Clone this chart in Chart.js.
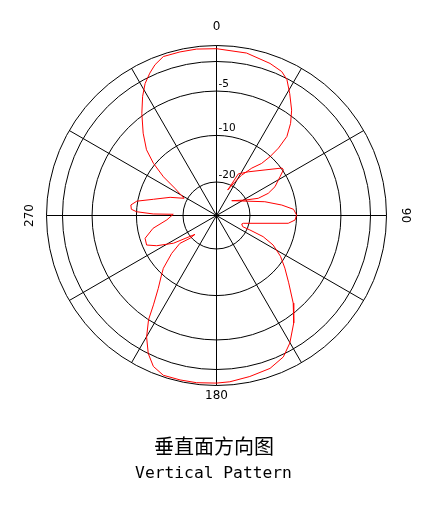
<!DOCTYPE html>
<html>
<head>
<meta charset="utf-8">
<script src="https://cdn.jsdelivr.net/npm/chart.js@4.4.1/dist/chart.umd.min.js"></script>
<style>
html,body{margin:0;padding:0;background:#fff;width:435px;height:505px;overflow:hidden}
#wrap{position:relative;width:435px;height:505px}
#c{position:absolute;left:0;top:0}
.t1{position:absolute;left:0;width:428px;text-align:center;top:436px;font-family:"Noto Sans CJK SC";font-size:20px;line-height:20px;color:#000}
.t2{position:absolute;left:0;width:427px;text-align:center;top:463px;font-family:"DejaVu Sans Mono";font-size:16.3px;line-height:19px;color:#000;white-space:pre}
</style>
</head>
<body>
<div id="wrap">
<canvas id="c" width="435" height="505"></canvas>
<div class="t1">垂直面方向图</div>
<div class="t2">Vertical Pattern</div>
</div>
<script>
// Path of the measured pattern, in drawing order (angle in degrees, clockwise from 0 at top)
const angles = [0,10.5,19.4,24.4,27.4,31,35.5,38.8,41.7,42.6,
  42.3,40.9,36.7,31.9,28.7,23.7,27.7,36,46.8,54.1,
  55.7,58.6,63.8,66.8,67.6,61.5,45.8,74.1,80.9,85.4,
  89.6,93.3,96.2,106.2,108.6,113.1,113.4,114.4,117.5,122.5,
  127.6,133,138.8,144.3,150.1,154.7,160.7,168.3,175.4,180,
  186.8,192.5,198.4,202.7,206.3,209.9,213.1,215.2,218.6,222.1,
  225.2,229.8,232.7,229.3,228.8,237.2,243.2,247.1,252.3,258.6,
  265,271.6,271.4,272.7,274.2,277,280.2,284.4,291.4,297.9,
  303.2,306.1,309.6,313.2,318.3,323.8,328.2,331.6,334.9,337.8,
  341.5,347.4,353.2,360];
// Relative level in dB at each path point
const gains = [-0.4,-0.6,-1.1,-1.5,-2.1,-3.2,-4.5,-5.7,-7.1,-8.7,
  -10.1,-12.4,-14.5,-17.0,-18.9,-23.4,-17.1,-15.6,-12.9,-9.9,
  -9.9,-11.2,-13.2,-15.1,-17.5,-20.7,-27.3,-16.4,-13.0,-10.6,
  -10.0,-10.3,-11.7,-23.3,-24.1,-23.0,-19.4,-16.2,-13.5,-10.9,
  -9.3,-7.9,-5.9,-4.2,-2.7,-1.7,-1.0,-0.7,-0.4,-0.3,
  -0.2,-0.2,-0.2,-0.8,-2.0,-3.4,-5.0,-6.7,-8.5,-9.7,
  -11.1,-14.6,-17.3,-19.7,-22.9,-16.2,-12.8,-10.9,-11.1,-13.3,
  -16.5,-17.9,-13.6,-10.0,-9.4,-9.3,-9.9,-13.2,-16.5,-19.3,
  -16.5,-13.1,-9.8,-8.2,-6.6,-4.8,-3.4,-2.4,-1.6,-0.9,
  -0.3,-0.3,-0.3,-0.4];
// Radial scale of the plot: grid ring levels (dB) and their fraction of the full radius
const ringDb = [0, -2, -5, -10, -20, -40];
const ringFrac = [1, 0.906, 0.732, 0.471, 0.197, 0];
// Tick labels on the radial axis
const tickDb = [-5, -10, -20];
const tickLabels = ['-5', '-10', '-20'];
// Angle labels
const angleLabelDeg = [0, 90, 180, 270];
const angleLabels = ['0', '90', '180', '270'];

function dbToFrac(db) {
  if (db >= ringDb[0]) return ringFrac[0];
  for (let i = 0; i < ringDb.length - 1; i++) {
    const a = ringDb[i], b = ringDb[i + 1];
    if (db <= a && db >= b) {
      const t = (a - db) / (a - b);
      return ringFrac[i] + (ringFrac[i + 1] - ringFrac[i]) * t;
    }
  }
  return 0;
}

const points = angles.map((a, i) => {
  const r = dbToFrac(gains[i]);
  const t = a * Math.PI / 180;
  return { x: r * Math.sin(t), y: r * Math.cos(t) };
});

const SPOKE_STEP = 30;
const polarGrid = {
  id: 'polarGrid',
  beforeDatasetsDraw(chart) {
    const { ctx, scales: { x, y } } = chart;
    const cx = x.getPixelForValue(0), cy = y.getPixelForValue(0);
    const R = v => x.getPixelForValue(v) - cx;
    ctx.save();
    ctx.strokeStyle = '#000';
    ctx.lineWidth = 1;
    ringFrac.forEach(f => {
      if (f > 0) { ctx.beginPath(); ctx.arc(cx, cy, R(f), 0, Math.PI * 2); ctx.stroke(); }
    });
    for (let a = 0; a < 360; a += SPOKE_STEP) {
      const t = a * Math.PI / 180;
      ctx.beginPath();
      ctx.moveTo(cx, cy);
      ctx.lineTo(x.getPixelForValue(Math.sin(t)), y.getPixelForValue(Math.cos(t)));
      ctx.stroke();
    }
    // radial tick labels, right of the 0° spoke
    ctx.fillStyle = '#000';
    ctx.font = '10.5px "DejaVu Sans"';
    ctx.textAlign = 'left';
    ctx.textBaseline = 'middle';
    tickDb.forEach((d, i) => {
      const r = R(dbToFrac(d));
      ctx.fillText(tickLabels[i], cx + 2, cy - r - 7);
    });
    // angle labels
    ctx.font = '12px "DejaVu Sans"';
    ctx.textAlign = 'center';
    ctx.textBaseline = 'middle';
    const outer = R(1);
    const gap = { 0: 19, 90: 18.5, 180: 10.5, 270: 16.3 };
    angleLabelDeg.forEach((a, i) => {
      const t = a * Math.PI / 180;
      const rr = outer + gap[a];
      const px = cx + rr * Math.sin(t), py = cy - rr * Math.cos(t);
      ctx.save();
      ctx.translate(px, py);
      if (a === 90) ctx.rotate(Math.PI / 2);
      if (a === 270) ctx.rotate(-Math.PI / 2);
      ctx.fillText(angleLabels[i], 0, 0);
      ctx.restore();
    });
    ctx.restore();
  }
};

new Chart(document.getElementById('c'), {
  type: 'scatter',
  data: {
    datasets: [{
      data: points,
      showLine: true,
      borderColor: '#ff0000',
      borderWidth: 1,
      pointRadius: 0,
      tension: 0,
      fill: false
    }]
  },
  options: {
    responsive: false,
    animation: false,
    devicePixelRatio: 1,
    layout: { padding: { left: 46.5, right: 48.5, top: 45.5, bottom: 119.5 } },
    scales: {
      x: { type: 'linear', min: -1, max: 1, display: false },
      y: { type: 'linear', min: -1, max: 1, display: false }
    },
    plugins: { legend: { display: false }, tooltip: { enabled: false }, title: { display: false } }
  },
  plugins: [polarGrid]
});
</script>
</body>
</html>
